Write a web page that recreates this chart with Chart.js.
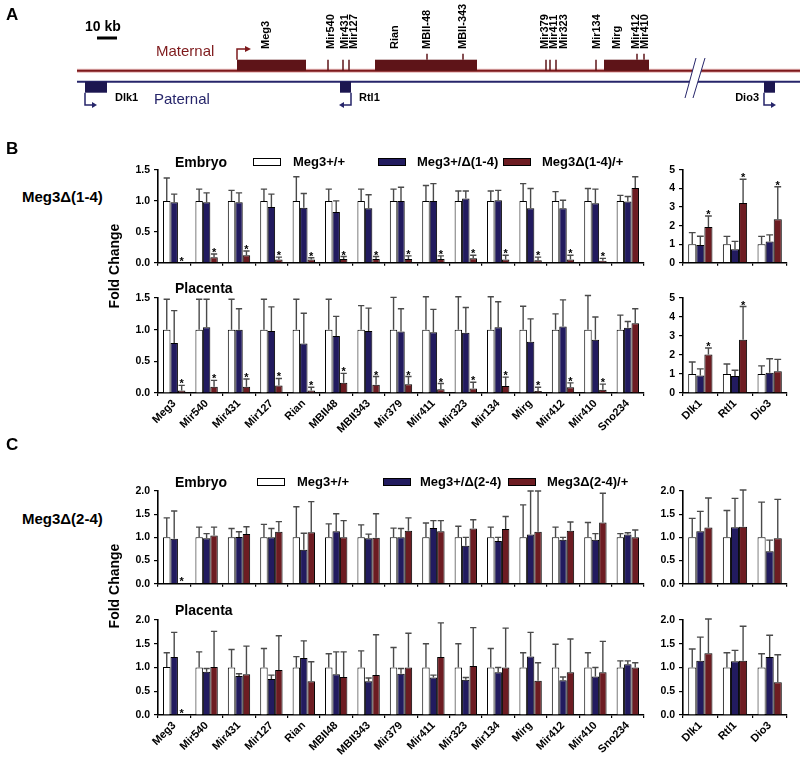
<!DOCTYPE html>
<html>
<head>
<title>Meg3 deletions - expression of Dlk1-Dio3 genes</title>
<script src="https://cdn.jsdelivr.net/npm/chart.js"></script>
<style>
body { margin: 0; background: #fff; }
#fig { position: relative; width: 800px; height: 759px; overflow: hidden; font-family: "Liberation Sans", Arial, sans-serif; }
canvas { position: absolute; }
.t { position: absolute; font-weight: bold; white-space: nowrap; color: #000; line-height: 1; }
.box { position: absolute; width: 28px; height: 8px; border: 1px solid #000; box-sizing: border-box; }
.rot { transform: translate(-50%, -50%) rotate(-90deg); }
</style>
</head>
<body>
<div id="fig">
    <canvas id="map"></canvas>
    <canvas id="bEmb"></canvas>
    <canvas id="bEmbSide"></canvas>
    <canvas id="bPla"></canvas>
    <canvas id="bPlaSide"></canvas>
    <canvas id="cEmb"></canvas>
    <canvas id="cEmbSide"></canvas>
    <canvas id="cPla"></canvas>
    <canvas id="cPlaSide"></canvas>

    <div class="t" style="left:6px;top:6px;font-size:17px">A</div>
    <div class="t" style="left:6px;top:140px;font-size:17px">B</div>
    <div class="t" style="left:6px;top:436px;font-size:17px">C</div>

    <div class="t" style="left:22px;top:189px;font-size:15px">Meg3Δ(1-4)</div>
    <div class="t rot" style="left:114px;top:266px;font-size:14px">Fold Change</div>
    <div class="t" style="left:175px;top:155px;font-size:14px">Embryo</div>
    <div class="box" style="left:253px;top:158px;background:#fff"></div>
    <div class="t" style="left:293px;top:155px;font-size:13px">Meg3+/+</div>
    <div class="box" style="left:378px;top:158px;background:#221b5f"></div>
    <div class="t" style="left:417px;top:155px;font-size:13px">Meg3+/Δ(1-4)</div>
    <div class="box" style="left:503px;top:158px;background:#6d1c22"></div>
    <div class="t" style="left:542px;top:155px;font-size:13px">Meg3Δ(1-4)/+</div>
    <div class="t" style="left:175px;top:281px;font-size:14px">Placenta</div>

    <div class="t" style="left:22px;top:511px;font-size:15px">Meg3Δ(2-4)</div>
    <div class="t rot" style="left:114px;top:586px;font-size:14px">Fold Change</div>
    <div class="t" style="left:175px;top:475px;font-size:14px">Embryo</div>
    <div class="box" style="left:257px;top:478px;background:#fff"></div>
    <div class="t" style="left:297px;top:475px;font-size:13px">Meg3+/+</div>
    <div class="box" style="left:383px;top:478px;background:#221b5f"></div>
    <div class="t" style="left:420px;top:475px;font-size:13px">Meg3+/Δ(2-4)</div>
    <div class="box" style="left:508px;top:478px;background:#6d1c22"></div>
    <div class="t" style="left:547px;top:475px;font-size:13px">Meg3Δ(2-4)/+</div>
    <div class="t" style="left:175px;top:603px;font-size:14px">Placenta</div>
</div>

<script>
// ---- gene map (panel A), positions in kb ----
const matBlockNames = ['Meg3', 'Rian', 'Mirg'];
const matBlockStart = [76, 145, 259.5];
const matBlockEnd = [110.5, 196, 282];
const matMarkNames = ['Mir540', 'Mir431', 'Mir127', 'Mir379', 'Mir411', 'Mir323', 'Mir134'];
const matMarkPos = [121.5, 129, 132, 230.5, 232.5, 235.5, 255.5];
const snoMarkNames = ['MBII-48', 'MBII-343', 'Mir412', 'Mir410'];
const snoMarkPos = [171, 189, 276, 279.5];
const patBlockNames = ['Dlk1', 'Rtl1', 'Dio3'];
const patBlockStart = [0, 127.5, 339.5];
const patBlockEnd = [11, 133, 345];
const patStrand = [1, -1, 1];
const mapLabels = ['Meg3', 'Mir540', 'Mir431', 'Mir127', 'Rian', 'MBII-48', 'MBII-343', 'Mir379', 'Mir411', 'Mir323', 'Mir134', 'Mirg', 'Mir412', 'Mir410'];
const mapLabelPos = [90.5, 123, 130, 134.5, 155, 171, 189, 230, 234.5, 239.5, 256, 266, 275.5, 280];
const breakPos = 304;

// ---- qPCR fold change (mean and mean+SEM) ----
const mainGenes = ['Meg3', 'Mir540', 'Mir431', 'Mir127', 'Rian', 'MBII48', 'MBII343', 'Mir379', 'Mir411', 'Mir323', 'Mir134', 'Mirg', 'Mir412', 'Mir410', 'Sno234'];
const sideGenes = ['Dlk1', 'Rtl1', 'Dio3'];

// B: Meg3 delta(1-4), embryo
const bEmbWt = [1, 1, 1, 1, 1, 1, 1, 1, 1, 1, 1, 1, 1, 1, 1];
const bEmbWtTop = [1.37, 1.19, 1.17, 1.19, 1.39, 1.19, 1.19, 1.19, 1.25, 1.16, 1.16, 1.28, 1.15, 1.20, 1.09];
const bEmbHet = [0.98, 0.98, 0.98, 0.90, 0.89, 0.82, 0.88, 1.00, 1.00, 1.04, 1.01, 0.88, 0.88, 0.96, 0.99];
const bEmbHetTop = [1.11, 1.13, 1.13, 1.11, 1.12, 1.00, 1.10, 1.22, 1.28, 1.16, 1.17, 1.20, 1.01, 1.19, 1.07];
const bEmbMat = [0.00, 0.09, 0.12, 0.05, 0.05, 0.06, 0.06, 0.06, 0.06, 0.07, 0.05, 0.04, 0.05, 0.03, 1.21];
const bEmbMatTop = [0.00, 0.14, 0.19, 0.09, 0.08, 0.10, 0.10, 0.11, 0.11, 0.12, 0.12, 0.09, 0.12, 0.07, 1.39];
const bEmbStars = mainGenes.slice(0, 14);

const bEmbSideWt = [1, 1, 1];
const bEmbSideWtTop = [1.62, 1.42, 1.42];
const bEmbSideHet = [0.95, 0.72, 1.15];
const bEmbSideHetTop = [1.43, 1.15, 1.50];
const bEmbSideMat = [1.93, 3.22, 2.35];
const bEmbSideMatTop = [2.52, 4.50, 4.10];
const bEmbSideStars = ['Dlk1', 'Rtl1', 'Dio3'];

// B: placenta
const bPlaWt = [1, 1, 1, 1, 1, 1, 1, 1, 1, 1, 1, 1, 1, 1, 1];
const bPlaWtTop = [1.48, 1.48, 1.48, 1.48, 1.48, 1.48, 1.38, 1.51, 1.52, 1.52, 1.52, 1.37, 1.25, 1.54, 1.23];
const bPlaHet = [0.79, 1.04, 1.00, 0.98, 0.78, 0.90, 0.98, 0.97, 0.96, 0.95, 1.04, 0.81, 1.05, 0.84, 1.03];
const bPlaHetTop = [1.30, 1.48, 1.33, 1.36, 1.26, 1.21, 1.34, 1.33, 1.32, 1.35, 1.44, 1.17, 1.47, 1.20, 1.13];
const bPlaMat = [0.04, 0.10, 0.10, 0.12, 0.04, 0.16, 0.13, 0.14, 0.06, 0.07, 0.11, 0.03, 0.09, 0.05, 1.10];
const bPlaMatTop = [0.12, 0.20, 0.22, 0.23, 0.09, 0.31, 0.26, 0.26, 0.15, 0.17, 0.25, 0.09, 0.16, 0.14, 1.33];
const bPlaStars = mainGenes.slice(0, 14);

const bPlaSideWt = [1, 1, 1];
const bPlaSideWtTop = [1.63, 1.53, 1.43];
const bPlaSideHet = [0.92, 0.90, 1.07];
const bPlaSideHetTop = [1.27, 1.20, 1.80];
const bPlaSideMat = [2.02, 2.80, 1.15];
const bPlaSideMatTop = [2.37, 4.55, 1.77];
const bPlaSideStars = ['Dlk1', 'Rtl1'];

// C: Meg3 delta(2-4), embryo
const cEmbWt = [1, 1, 1, 1, 1, 1, 1, 1, 1, 1, 1, 1, 1, 1, 1];
const cEmbWtTop = [1.42, 1.22, 1.19, 1.28, 1.66, 1.29, 1.27, 1.20, 1.31, 1.24, 1.22, 1.70, 1.22, 1.32, 1.08];
const cEmbHet = [0.97, 0.98, 1.01, 1.00, 0.73, 1.13, 0.98, 1.00, 1.20, 0.82, 0.92, 1.06, 0.95, 0.95, 1.06];
const cEmbHetTop = [1.57, 1.08, 1.12, 1.19, 1.09, 1.51, 1.07, 1.19, 1.36, 1.00, 1.00, 2.00, 1.00, 1.08, 1.10];
const cEmbMat = [0.01, 1.04, 1.07, 1.12, 1.11, 1.00, 0.99, 1.14, 1.13, 1.19, 1.18, 1.12, 1.14, 1.32, 1.00];
const cEmbMatTop = [0.01, 1.22, 1.23, 1.34, 1.77, 1.36, 1.51, 1.42, 1.36, 1.38, 1.45, 2.00, 1.33, 1.95, 1.16];
const cEmbStars = ['Meg3'];

const cEmbSideWt = [1, 1, 1];
const cEmbSideWtTop = [1.41, 1.58, 1.76];
const cEmbSideHet = [1.13, 1.22, 0.70];
const cEmbSideHetTop = [1.56, 1.84, 0.94];
const cEmbSideMat = [1.21, 1.23, 0.98];
const cEmbSideMatTop = [1.85, 2.02, 1.82];

// C: placenta
const cPlaWt = [1.01, 1, 1, 1, 1, 1, 1, 1, 1, 1, 1, 1, 1, 1, 1];
const cPlaWtTop = [1.31, 1.33, 1.38, 1.40, 1.23, 1.29, 1.35, 1.42, 1.50, 1.50, 1.40, 1.31, 1.49, 1.31, 1.14];
const cPlaHet = [1.22, 0.91, 0.82, 0.76, 1.20, 0.86, 0.71, 0.87, 0.79, 0.74, 0.90, 1.23, 0.73, 0.81, 1.07];
const cPlaHetTop = [1.74, 0.98, 0.87, 0.84, 1.56, 1.33, 0.78, 0.98, 0.84, 0.79, 1.00, 1.74, 0.80, 1.00, 1.14];
const cPlaMat = [0.01, 1.01, 0.86, 0.95, 0.71, 0.80, 0.84, 1.00, 1.22, 1.03, 1.00, 0.72, 0.90, 0.90, 1.00];
const cPlaMatTop = [0.01, 1.76, 1.45, 1.67, 1.12, 1.33, 1.69, 1.72, 1.94, 1.84, 1.83, 1.10, 1.60, 1.55, 1.10];
const cPlaStars = ['Meg3'];

const cPlaSideWt = [1, 1, 1];
const cPlaSideWtTop = [1.39, 1.31, 1.29];
const cPlaSideHet = [1.14, 1.13, 1.22];
const cPlaSideHetTop = [1.64, 1.36, 1.68];
const cPlaSideMat = [1.30, 1.14, 0.69];
const cPlaSideMatTop = [2.02, 1.87, 1.27];

const FONT = '"Liberation Sans", Arial, sans-serif';
const COLORS = ['#ffffff', '#221b5f', '#6d1c22'];
Chart.defaults.font.family = FONT;

// error bars (upper only) and significance stars
const errorBars = {
    id: 'errorBars',
    afterDatasetsDraw(chart) {
        const ctx = chart.ctx;
        const y = chart.scales.y;
        const labels = chart.data.labels;
        chart.data.datasets.forEach((ds, i) => {
            chart.getDatasetMeta(i).data.forEach((bar, j) => {
                const top = y.getPixelForValue(ds.tops[j]);
                const half = bar.width * 0.42;
                ctx.save();
                ctx.strokeStyle = '#4a4a4a';
                ctx.lineWidth = 1.4;
                if (ds.tops[j] > ds.data[j]) {
                    ctx.beginPath();
                    ctx.moveTo(bar.x, bar.y);
                    ctx.lineTo(bar.x, top);
                    ctx.moveTo(bar.x - half, top);
                    ctx.lineTo(bar.x + half, top);
                    ctx.stroke();
                }
                if (ds.stars && ds.stars.includes(labels[j])) {
                    ctx.fillStyle = '#000';
                    ctx.font = 'bold 11px ' + FONT;
                    ctx.textAlign = 'center';
                    ctx.textBaseline = 'alphabetic';
                    ctx.fillText('*', bar.x, top + 2);
                }
                ctx.restore();
            });
        });
    }
};

function barChart(id, area, labels, series, stars, yMax, yStep, digits, showLabels, catPct) {
    const cv = document.getElementById(id);
    const padTop = 14, padRight = 10, yW = 40;
    const xH = showLabels ? 60 : 8;
    cv.width = yW + area.w + padRight;
    cv.height = padTop + area.h + xH;
    cv.style.left = (area.x - yW) + 'px';
    cv.style.top = (area.y - padTop) + 'px';
    new Chart(cv, {
        type: 'bar',
        data: {
            labels: labels,
            datasets: series.map((s, k) => ({
                data: s[0],
                tops: s[1],
                stars: k === 2 ? stars : [],
                backgroundColor: COLORS[k],
                borderColor: '#000',
                borderWidth: 1,
                categoryPercentage: catPct,
                barPercentage: 1
            }))
        },
        options: {
            responsive: false,
            animation: false,
            devicePixelRatio: 1,
            layout: { padding: { top: padTop, right: padRight, left: 0, bottom: 0 } },
            plugins: { legend: { display: false }, tooltip: { enabled: false } },
            scales: {
                x: {
                    grid: { display: true, drawOnChartArea: false, offset: true, tickLength: 3, color: '#000', lineWidth: 1.2 },
                    border: { display: true, color: '#000', width: 1.6 },
                    ticks: {
                        display: showLabels, autoSkip: false, maxRotation: 45, minRotation: 45, padding: 1,
                        color: '#000', font: { family: FONT, weight: 'bold', size: 11 }
                    },
                    afterFit: s => { s.height = xH; }
                },
                y: {
                    min: 0,
                    max: yMax,
                    grid: { drawOnChartArea: false, tickLength: 4, color: '#000', lineWidth: 1.2 },
                    border: { display: true, color: '#000', width: 1.6 },
                    ticks: {
                        stepSize: yStep, padding: 4, color: '#000',
                        font: { family: FONT, weight: 'bold', size: 10.5 },
                        callback: v => v.toFixed(digits)
                    },
                    afterFit: s => { s.width = yW; }
                }
            }
        },
        plugins: [errorBars]
    });
}

// chart areas on the page
const mainX = 158, mainW = 486, sideX = 683, sideW = 104, plotH = 95;

barChart('bEmb', { x: mainX, y: 170, w: mainW, h: plotH }, mainGenes,
    [[bEmbWt, bEmbWtTop], [bEmbHet, bEmbHetTop], [bEmbMat, bEmbMatTop]], bEmbStars, 1.5, 0.5, 1, false, 0.69);
barChart('bEmbSide', { x: sideX, y: 170, w: sideW, h: plotH }, sideGenes,
    [[bEmbSideWt, bEmbSideWtTop], [bEmbSideHet, bEmbSideHetTop], [bEmbSideMat, bEmbSideMatTop]], bEmbSideStars, 5, 1, 0, false, 0.7);
barChart('bPla', { x: mainX, y: 298, w: mainW, h: plotH }, mainGenes,
    [[bPlaWt, bPlaWtTop], [bPlaHet, bPlaHetTop], [bPlaMat, bPlaMatTop]], bPlaStars, 1.5, 0.5, 1, true, 0.69);
barChart('bPlaSide', { x: sideX, y: 298, w: sideW, h: plotH }, sideGenes,
    [[bPlaSideWt, bPlaSideWtTop], [bPlaSideHet, bPlaSideHetTop], [bPlaSideMat, bPlaSideMatTop]], bPlaSideStars, 5, 1, 0, true, 0.7);
barChart('cEmb', { x: mainX, y: 491, w: mainW, h: plotH }, mainGenes,
    [[cEmbWt, cEmbWtTop], [cEmbHet, cEmbHetTop], [cEmbMat, cEmbMatTop]], cEmbStars, 2, 0.5, 1, false, 0.69);
barChart('cEmbSide', { x: sideX, y: 491, w: sideW, h: plotH }, sideGenes,
    [[cEmbSideWt, cEmbSideWtTop], [cEmbSideHet, cEmbSideHetTop], [cEmbSideMat, cEmbSideMatTop]], [], 2, 0.5, 1, false, 0.7);
barChart('cPla', { x: mainX, y: 620, w: mainW, h: plotH }, mainGenes,
    [[cPlaWt, cPlaWtTop], [cPlaHet, cPlaHetTop], [cPlaMat, cPlaMatTop]], cPlaStars, 2, 0.5, 1, true, 0.69);
barChart('cPlaSide', { x: sideX, y: 620, w: sideW, h: plotH }, sideGenes,
    [[cPlaSideWt, cPlaSideWtTop], [cPlaSideHet, cPlaSideHetTop], [cPlaSideMat, cPlaSideMatTop]], [], 2, 0.5, 1, true, 0.7);

// ---- panel A: gene map drawn on a linear kb scale ----
const MAT_Y = 70.7, PAT_Y = 81.7, BLOCK_H = 11;
const MAT_COL = '#7e1a1c', BLOCK_MAT = '#5e1418', PAT_COL = '#26256a', BLOCK_PAT = '#1c1650';

const genomeMap = {
    id: 'genomeMap',
    afterDraw(chart) {
        const ctx = chart.ctx;
        const X = v => chart.scales.x.getPixelForValue(v);
        const Y = v => chart.scales.y.getPixelForValue(v);
        const x1 = chart.scales.x.max;
        ctx.save();

        // strands
        ctx.lineCap = 'butt';
        ctx.strokeStyle = '#e6b7b7'; ctx.lineWidth = 4;
        ctx.beginPath(); ctx.moveTo(X(-4), Y(MAT_Y)); ctx.lineTo(X(x1), Y(MAT_Y)); ctx.stroke();
        ctx.strokeStyle = MAT_COL; ctx.lineWidth = 2;
        ctx.beginPath(); ctx.moveTo(X(-4), Y(MAT_Y)); ctx.lineTo(X(x1), Y(MAT_Y)); ctx.stroke();
        ctx.strokeStyle = PAT_COL; ctx.lineWidth = 2;
        ctx.beginPath(); ctx.moveTo(X(-4), Y(PAT_Y)); ctx.lineTo(X(x1), Y(PAT_Y)); ctx.stroke();

        // break
        const bx = X(breakPos);
        ctx.fillStyle = '#fff';
        ctx.beginPath();
        ctx.moveTo(bx + 3, Y(58)); ctx.lineTo(bx + 12, Y(58)); ctx.lineTo(bx, Y(98)); ctx.lineTo(bx - 8, Y(98));
        ctx.closePath(); ctx.fill();
        ctx.strokeStyle = PAT_COL; ctx.lineWidth = 1;
        ctx.beginPath();
        ctx.moveTo(bx + 3, Y(58)); ctx.lineTo(bx - 8, Y(98));
        ctx.moveTo(bx + 12, Y(58)); ctx.lineTo(bx, Y(98));
        ctx.stroke();

        // maternal blocks and marks
        ctx.fillStyle = BLOCK_MAT;
        matBlockStart.forEach((s, i) => {
            ctx.fillRect(X(s), Y(MAT_Y - BLOCK_H), X(matBlockEnd[i]) - X(s), BLOCK_H);
        });
        ctx.strokeStyle = BLOCK_MAT; ctx.lineWidth = 1.5;
        matMarkPos.forEach(p => {
            ctx.beginPath(); ctx.moveTo(X(p), Y(MAT_Y)); ctx.lineTo(X(p), Y(MAT_Y - BLOCK_H)); ctx.stroke();
        });
        snoMarkPos.forEach(p => {
            ctx.beginPath(); ctx.moveTo(X(p), Y(MAT_Y - BLOCK_H)); ctx.lineTo(X(p), Y(MAT_Y - BLOCK_H - 6)); ctx.stroke();
        });

        // Meg3 promoter arrow
        ctx.strokeStyle = MAT_COL; ctx.fillStyle = MAT_COL; ctx.lineWidth = 1.5;
        const mx = X(matBlockStart[0]);
        ctx.beginPath(); ctx.moveTo(mx, Y(MAT_Y - BLOCK_H)); ctx.lineTo(mx, Y(49)); ctx.lineTo(mx + 10, Y(49)); ctx.stroke();
        ctx.beginPath(); ctx.moveTo(mx + 14, Y(49)); ctx.lineTo(mx + 8, Y(46)); ctx.lineTo(mx + 8, Y(52)); ctx.closePath(); ctx.fill();

        // paternal blocks and arrows
        patBlockStart.forEach((s, i) => {
            const e = patBlockEnd[i];
            ctx.fillStyle = BLOCK_PAT;
            ctx.fillRect(X(s), Y(PAT_Y), X(e) - X(s), BLOCK_H);
            const ax = patStrand[i] > 0 ? X(s) : X(e);
            const dir = patStrand[i];
            ctx.strokeStyle = PAT_COL; ctx.fillStyle = PAT_COL; ctx.lineWidth = 1.5;
            ctx.beginPath(); ctx.moveTo(ax, Y(PAT_Y + BLOCK_H)); ctx.lineTo(ax, Y(105)); ctx.lineTo(ax + dir * 8, Y(105)); ctx.stroke();
            ctx.beginPath(); ctx.moveTo(ax + dir * 12, Y(105)); ctx.lineTo(ax + dir * 7, Y(102)); ctx.lineTo(ax + dir * 7, Y(108)); ctx.closePath(); ctx.fill();
        });

        // labels
        ctx.fillStyle = '#000';
        ctx.font = 'bold 11px ' + FONT;
        ctx.textBaseline = 'middle';
        mapLabels.forEach((name, i) => {
            ctx.save();
            ctx.translate(X(mapLabelPos[i]), Y(49));
            ctx.rotate(-Math.PI / 2);
            ctx.textAlign = 'left';
            ctx.fillText(name, 0, 0);
            ctx.restore();
        });
        ctx.textAlign = 'left';
        ctx.fillText(patBlockNames[0], X(15), Y(98));
        ctx.fillText(patBlockNames[1], X(137), Y(98));
        ctx.textAlign = 'right';
        ctx.fillText(patBlockNames[2], X(337), Y(98));

        ctx.textAlign = 'left';
        ctx.font = 'bold 14px ' + FONT;
        ctx.fillText('10 kb', X(0), Y(27));
        ctx.fillRect(X(6), Y(36.5), X(16) - X(6), 3);

        ctx.font = '15px ' + FONT;
        ctx.fillStyle = MAT_COL;
        ctx.fillText('Maternal', X(35.5), Y(52));
        ctx.fillStyle = PAT_COL;
        ctx.fillText('Paternal', X(34.5), Y(100));
        ctx.restore();
    }
};

const mapCv = document.getElementById('map');
mapCv.width = 800;
mapCv.height = 115;
mapCv.style.left = '0px';
mapCv.style.top = '0px';
new Chart(mapCv, {
    type: 'scatter',
    data: { datasets: [] },
    options: {
        responsive: false,
        animation: false,
        devicePixelRatio: 1,
        layout: { padding: 0 },
        plugins: { legend: { display: false }, tooltip: { enabled: false } },
        scales: {
            x: { type: 'linear', display: false, min: -42.5, max: 357.5 },
            y: { type: 'linear', display: false, min: 0, max: 115, reverse: true }
        }
    },
    plugins: [genomeMap]
});
</script>
</body>
</html>
